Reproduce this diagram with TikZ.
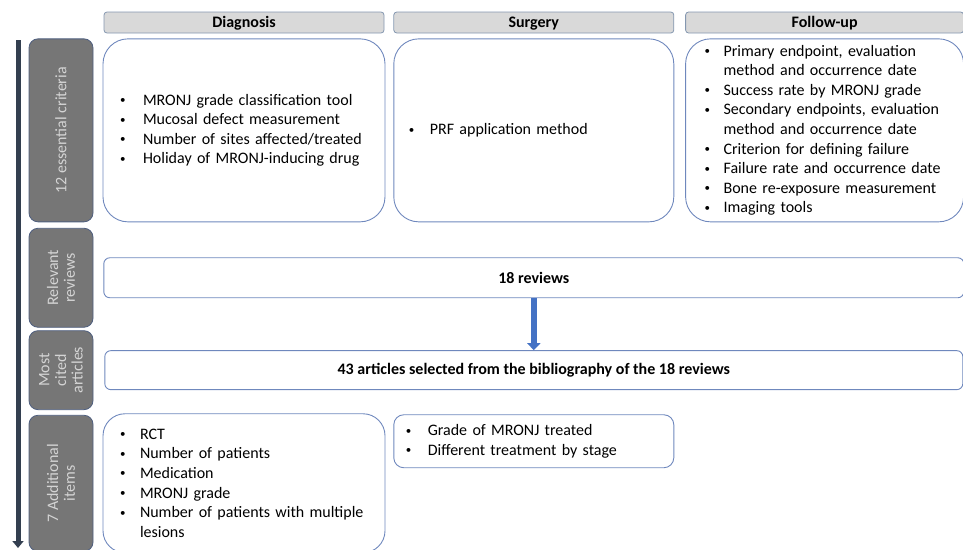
\documentclass[tikz,border=0pt]{standalone}
\usepackage{fontspec}
\setmainfont{Carlito}
\usetikzlibrary{positioning,arrows.meta}

\definecolor{hdrfill}{HTML}{D9D9D9}
\definecolor{hdrline}{HTML}{8497B0}
\definecolor{boxline}{HTML}{6F88BD}
\definecolor{lblfill}{HTML}{767676}
\definecolor{lblline}{HTML}{4F5F7F}
\definecolor{lbltext}{HTML}{D4D4D4}
\definecolor{flowblue}{HTML}{4472C4}
\definecolor{timeline}{HTML}{333F50}

\newcommand{\bul}[1][22pt]{\makebox[#1][l]{\hspace*{1pt}\raisebox{1.6pt}{\fontsize{11}{11}\selectfont\textbullet}}}

\tikzset{
  every node/.style={font=\fontsize{16}{19.6}\selectfont},
  header/.style={draw=hdrline, fill=hdrfill, line width=0.8pt, rounded corners=3pt,
    minimum width=280pt, minimum height=21pt, inner sep=0pt,
    text height=13pt, text depth=4pt,
    font=\fontsize{16}{19.6}\selectfont\bfseries},
  itembox/.style={draw=boxline, line width=0.9pt, rounded corners=25pt,
    minimum width=280pt, minimum height=183pt, align=left, inner ysep=0pt},
  widebox/.style={draw=boxline, line width=0.9pt, rounded corners=6pt,
    minimum height=40pt, inner sep=0pt, font=\fontsize{16}{19.6}\selectfont\bfseries},
  lbl/.style={draw=lblline, fill=lblfill, line width=0.8pt, rounded corners=9pt,
    rotate=90, minimum height=64pt, inner sep=0pt, align=center, text=lbltext},
  flow/.style={draw=flowblue, line width=6pt, -{Triangle[width=13pt,length=7pt]}},
  tline/.style={draw=timeline, line width=5pt, -{Triangle[width=11pt,length=7pt]}}
}

\begin{document}
\begin{tikzpicture}[x=1pt,y=1pt]
  \useasboundingbox (0,0) rectangle (963,-549);

  % column headers
  \node[header] (hdiag) at (244,-22.5) {Diagnosis};
  \node[header, right=9pt of hdiag] (hsurg) {Surgery};
  \node[header, right=11pt of hsurg, minimum width=278pt] (hfoll) {Follow-up};

  % 12 essential criteria
  \node[itembox, below=5pt of hdiag, text width=250pt, inner xsep=16pt] (bdiag) {%
    \bul[24pt]MRONJ grade classification tool\\
    \bul[24pt]Mucosal defect measurement\\
    \bul[24pt]Number of sites affected/treated\\
    \bul[24pt]Holiday of MRONJ-inducing drug};
  \node[itembox, below=5pt of hsurg, text width=252pt, inner xsep=14pt] (bsurg) {%
    \bul PRF application method};
  \node[itembox, below=5pt of hfoll, minimum width=278pt, text width=242pt, inner xsep=18pt] (bfoll) {%
    \bul[20pt]Primary endpoint, evaluation\\
    \hspace*{20pt}method and occurrence date\\
    \bul[20pt]Success rate by MRONJ grade\\
    \bul[20pt]Secondary endpoints, evaluation\\
    \hspace*{20pt}method and occurrence date\\
    \bul[20pt]Criterion for defining failure\\
    \bul[20pt]Failure rate and occurrence date\\
    \bul[20pt]Bone re-exposure measurement\\
    \bul[20pt]Imaging tools};

  % reviews and articles
  \node[widebox, below=35pt of bsurg, minimum width=860pt] (reviews) {18 reviews};
  \node[widebox, below=52pt of reviews, minimum width=858pt, minimum height=39pt] (articles)
    {43 articles selected from the bibliography of the 18 reviews};
  \draw[flow] (reviews.south) -- (articles.north);

  % 7 additional items
  \node[itembox, below=191pt of bdiag, minimum height=139pt, rounded corners=22pt,
    text width=250pt, inner xsep=16pt] (adiag) {%
    \bul[21pt]RCT\\
    \bul[21pt]Number of patients\\
    \bul[21pt]Medication\\
    \bul[21pt]MRONJ grade\\
    \bul[21pt]Number of patients with multiple\\
    \hspace*{21pt}lesions};
  \node[itembox, below=192pt of bsurg, minimum height=53pt, rounded corners=10pt,
    text width=258pt, inner xsep=11pt] (asurg) {%
    \bul[23pt]Grade of MRONJ treated\\
    \bul[23pt]Different treatment by stage};

  % row labels
  \coordinate (lx) at (61,0);
  \node[lbl, minimum width=183pt] (lcrit) at (lx |- bdiag) {12 essential criteria};
  \node[lbl, minimum width=99pt] (lrev) at (lx |- reviews) {Relevant\\[-3pt]reviews};
  \node[lbl, minimum width=79pt] (lart) at (lx |- articles) {Most\\[-3pt]cited\\[-3pt]articles};
  \node[lbl, minimum width=136pt] (ladd) at (lx |- adiag) {7 Additional\\[-3pt]items};

  % timeline
  \coordinate (ttop) at (18,-40);
  \coordinate (tbot) at (18,-548);
  \draw[tline] (ttop) -- (tbot);
\end{tikzpicture}
\end{document}
